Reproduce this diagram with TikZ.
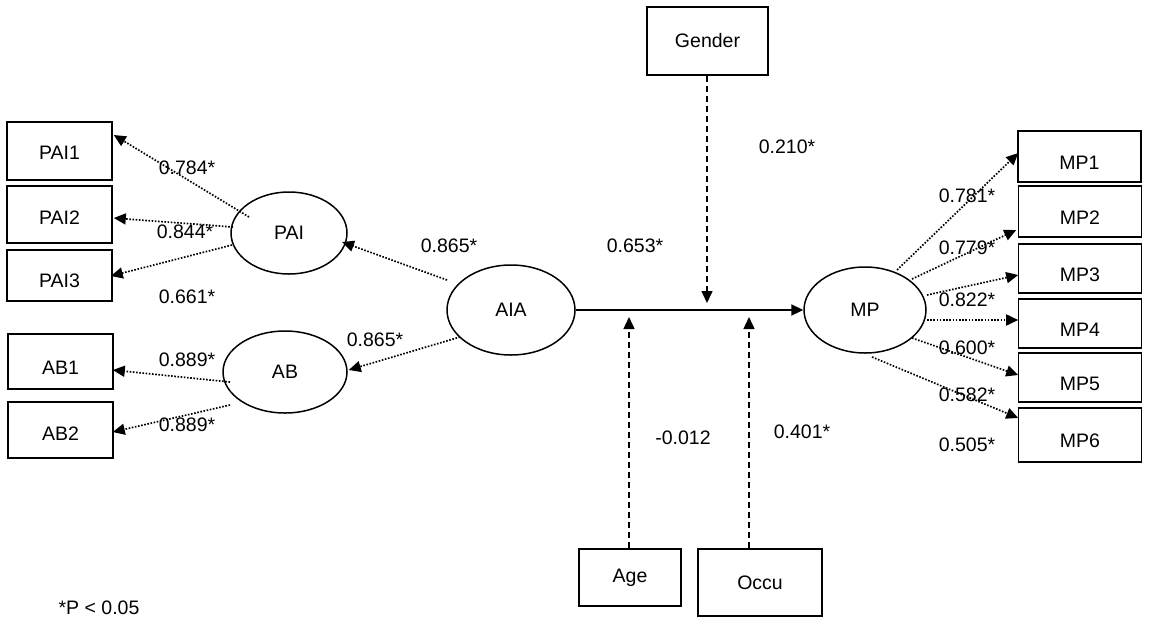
\documentclass[tikz,border=0pt]{standalone}
\usepackage{fontspec}
\setmainfont{Liberation Sans}
\usetikzlibrary{arrows.meta,shapes.geometric}
\begin{document}
\begin{tikzpicture}[x=1pt,y=-1pt,
  font=\fontsize{19.5}{23}\selectfont,
  obs/.style={draw, rectangle, line width=1.6pt, inner sep=0pt},
  low/.style={text height=#1, text depth=0pt},
  lat/.style={draw, ellipse, line width=1.5pt, inner sep=0pt},
  tipx/.style={-{Triangle[length=12pt,width=11pt]}},
  load/.style={tipx, line width=1.7pt, dash pattern=on 1.6pt off 1.6pt},
  ctrl/.style={tipx, line width=1.5pt, dash pattern=on 6pt off 4pt},
  mainpath/.style={tipx, line width=2.2pt},
  lbl/.style={inner sep=0pt}]
\useasboundingbox (0,0) rectangle (1150,619);
% observed boxes, left
\node[obs, low=16pt, minimum width=105pt, minimum height=58pt] (PAI1) at (59.5,151) {PAI1};
\node[obs, low=20pt, minimum width=105pt, minimum height=57pt] (PAI2) at (59.5,214.5) {PAI2};
\node[obs, low=24pt, minimum width=105pt, minimum height=51pt] (PAI3) at (59.5,275.5) {PAI3};
\node[obs, low=26pt, minimum width=105pt, minimum height=55pt] (AB1) at (60.5,361.5) {AB1};
\node[obs, low=20pt, minimum width=105pt, minimum height=56pt] (AB2) at (60.5,430) {AB2};
% latent
\node[lat, minimum width=116pt, minimum height=82pt] (PAI) at (289,233) {PAI};
\node[lat, minimum width=124pt, minimum height=82pt] (AB) at (285,372) {AB};
\node[lat, minimum width=128pt, minimum height=90pt] (AIA) at (511,310) {AIA};
\node[lat, minimum width=122pt, minimum height=86pt] (MP) at (865,310) {MP};
% controls
\node[obs, minimum width=121pt, minimum height=68pt] (Gender) at (707.5,41) {Gender};
\node[obs, minimum width=102pt, minimum height=57pt] (Age) at (630,577.5) {Age};
\node[obs, minimum width=124pt, minimum height=67pt] (Occu) at (760,582.5) {Occu};
% right boxes
\node[obs, low=26pt, minimum width=123pt, minimum height=51pt] (MP1) at (1079.5,156.5) {MP1};
\node[obs, low=26pt, minimum width=123pt, minimum height=51pt] (MP2) at (1080,211.5) {MP2};
\node[obs, low=26pt, minimum width=123pt, minimum height=49pt] (MP3) at (1080,268.5) {MP3};
\node[obs, low=26pt, minimum width=123pt, minimum height=49pt] (MP4) at (1080,323.5) {MP4};
\node[obs, low=26pt, minimum width=123pt, minimum height=49pt] (MP5) at (1080,377.5) {MP5};
\node[obs, low=24pt, minimum width=123pt, minimum height=54pt] (MP6) at (1080,435) {MP6};
% tip coordinates on main path
\coordinate (gtip) at (707,303);
\coordinate (atip) at (629,317);
\coordinate (otip) at (749,317);
% loadings left
\draw[load] ([shift={(-40,-16)}]PAI.center) -- ([shift={(1,-16)}]PAI1.east);
\draw[load] ([shift={(-56,-6)}]PAI.center) -- ([shift={(1,3.5)}]PAI2.east);
\draw[load] ([shift={(-57,12)}]PAI.center) -- ([shift={(-2,0.5)}]PAI3.east);
\draw[load] ([shift={(-64,-30)}]AIA.center) -- ([shift={(53,9)}]PAI.center);
\draw[load] ([shift={(-51,27)}]AIA.center) -- ([shift={(1,-2)}]AB.east);
\draw[load] ([shift={(-55,10)}]AB.center) -- ([shift={(-1,8.5)}]AB1.east);
\draw[load] ([shift={(-55,33)}]AB.center) -- ([shift={(-1,2)}]AB2.east);
% loadings right
\draw[load] ([shift={(32,-40)}]MP.center) -- ([shift={(1,-3.5)}]MP1.west);
\draw[load] ([shift={(47,-31)}]MP.center) -- ([shift={(-1.5,18.5)}]MP2.west);
\draw[load] ([shift={(62,-15)}]MP.center) -- ([shift={(0.5,6.5)}]MP3.west);
\draw[load] ([shift={(62,10)}]MP.center) -- ([shift={(0.5,-3.5)}]MP4.west);
\draw[load] ([shift={(47,28)}]MP.center) -- ([shift={(0.5,-2.5)}]MP5.west);
\draw[load] ([shift={(7,47)}]MP.center) -- ([shift={(0.5,-17)}]MP6.west);
% main path and controls
\draw[mainpath] (AIA.east) -- (MP.west);
\draw[ctrl] ([xshift=-0.5pt]Gender.south) -- (gtip);
\draw[ctrl] ([xshift=-1pt]Age.north) -- (atip);
\draw[ctrl] ([xshift=-11pt]Occu.north) -- (otip);
% labels
\node[lbl] (l1) at (187,168) {0.784*};
\node[lbl] (l2) at (185,232) {0.844*};
\node[lbl] (l3) at (187,297) {0.661*};
\node[lbl] (l4) at (449,246) {0.865*};
\node[lbl] (l5) at (375,340) {0.865*};
\node[lbl] (l6) at (187,360) {0.889*};
\node[lbl] (l7) at (187,425) {0.889*};
\node[lbl] (l8) at (635,246) {0.653*};
\node[lbl] (l9) at (787,147) {0.210*};
\node[lbl] (l10) at (683,438) {-0.012};
\node[lbl] (l11) at (802,432) {0.401*};
\node[lbl] (r1) at (967,196) {0.781*};
\node[lbl] (r2) at (967,248) {0.779*};
\node[lbl] (r3) at (967,300) {0.822*};
\node[lbl] (r4) at (967,348) {0.600*};
\node[lbl] (r5) at (967,395) {0.582*};
\node[lbl] (r6) at (967,445) {0.505*};
\node[lbl] (note) at (99,608) {*P < 0.05};
\end{tikzpicture}
\end{document}
